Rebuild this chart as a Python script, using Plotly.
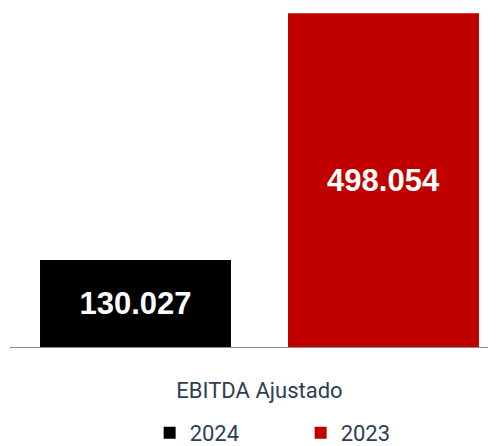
import plotly.graph_objects as go

categories = ["EBITDA Ajustado"]
series_names = ["2024", "2023"]
values_2024 = [130.027]
values_2023 = [498.054]
labels_2024 = ["130.027"]
labels_2023 = ["498.054"]
colors = {"2024": "#000000", "2023": "#C00000"}

fig = go.Figure()
for name, vals, labs in [("2024", values_2024, labels_2024), ("2023", values_2023, labels_2023)]:
    fig.add_trace(go.Bar(
        x=categories, y=vals, name=name, text=labs,
        textposition="inside", insidetextanchor="middle",
        textfont=dict(family="Liberation Sans, Arial", size=31, color="white", weight="bold"),
        marker=dict(color=colors[name], line=dict(width=0)),
        hoverinfo="skip",
    ))

fig.update_layout(
    width=496, height=446,
    margin=dict(l=2, r=0, t=4, b=107, autoexpand=False),
    paper_bgcolor="white", plot_bgcolor="white",
    barmode="group", bargap=0.006, bargroupgap=0.23,
    font=dict(family="Roboto", size=22, color="#2e3f55"),
    showlegend=True,
    legend=dict(orientation="h", xref="container", yref="container",
                x=0.59, xanchor="center", y=-0.014, yanchor="bottom",
                font=dict(family="Roboto", size=22, color="#2e3f55"),
                itemwidth=30, traceorder="normal", entrywidth=106),
    xaxis=dict(range=[-0.5, 0.49], showline=True, linecolor="#8c8c8c", linewidth=1,
               ticks="", showgrid=False, zeroline=False, ticklabelstandoff=24,
               tickfont=dict(family="Roboto", size=22, color="#2e3f55")),
    yaxis=dict(range=[0, 500], visible=False, showgrid=False, zeroline=False),
)

fig.write_html("out.html")
